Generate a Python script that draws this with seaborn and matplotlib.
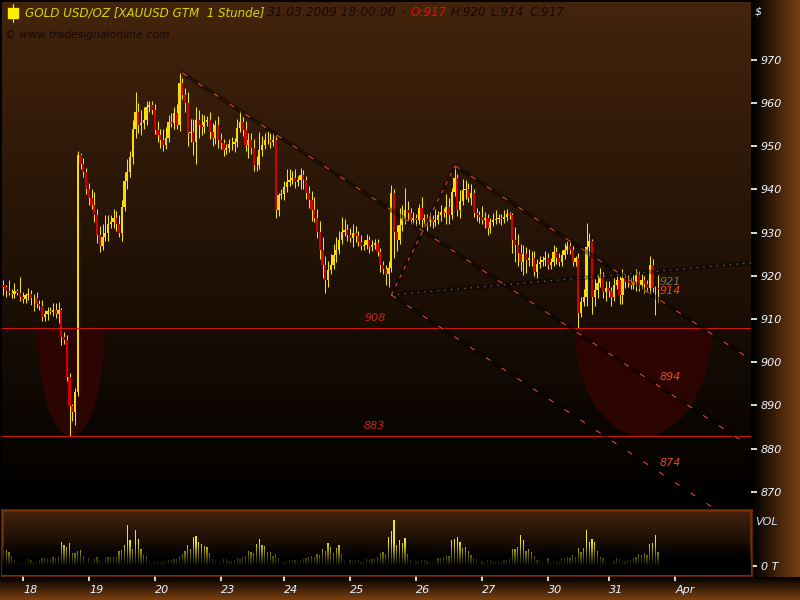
import numpy as np
import pandas as pd
import matplotlib
matplotlib.use("Agg")
import matplotlib.pyplot as plt
from matplotlib.colors import LinearSegmentedColormap
import seaborn as sns

# hourly closes, one row per trading day
closes = [
    917.5, 916.5, 916, 915.8, 916.4, 916, 915.2, 914.7, 915.5, 915.8, 914.8, 914.8, 913.5, 913, 910.5, 911.2, 911.8, 911.6, 912.2, 911.2, 912, 905.9, 905.2, 896.6,
    889.9, 888.5, 893.1, 948, 945.8, 944, 940, 938, 936.5, 934, 929.5, 927, 929, 930, 932, 932.5, 933.5, 932, 930, 936, 942, 944, 947.5, 954,
    958, 955, 955.5, 956, 959, 959.5, 958.4, 953.8, 952.6, 951.5, 950.3, 952, 955.7, 955.5, 957.7, 955, 964.7, 961.9, 960, 953, 953.4, 951, 956, 955,
    954.5, 955.7, 956, 953.3, 952, 955, 951.5, 950.8, 949.2, 949.6, 950.6, 950.6, 950.9, 954.3, 955.7, 953.8, 950.3, 951.5, 949.6, 945.7, 945.7, 949.2, 950.3, 951.5,
    951.5, 951, 951.5, 935.3, 938.7, 939, 940.5, 941.8, 942.2, 942.7, 941.8, 942.2, 943.4, 942.2, 939.2, 937.6, 935.3, 933.4, 930.2, 926, 922.5, 919, 921.4, 922.5,
    924.8, 926, 928.3, 930.2, 930.6, 929.5, 928.8, 930, 929.3, 927.9, 927, 927.2, 928.3, 926.8, 927.2, 927.6, 925.5, 922.5, 921.5, 920.4, 921.9, 939.2, 930.2, 928.3,
    931.8, 933.4, 935.3, 934.6, 933, 933.4, 933, 935.7, 933, 933.4, 932.5, 933.2, 932.5, 933, 934.1, 934.8, 934.6, 936, 934.1, 939.4, 942.7, 935.3, 937.4, 939.9,
    940.1, 938, 939.2, 934.6, 934.1, 933.7, 933, 933.4, 931, 932.5, 933, 933.2, 933.4, 933.2, 933.7, 934.4, 934.1, 928.3, 927.2, 925.3, 923.2, 925.1, 923.7, 924.2,
    924.2, 920.9, 922.8, 923.2, 923.7, 924.2, 922.5, 923.2, 925.6, 924.2, 923.2, 924.9, 926, 927, 926, 923.2, 924.2, 911.4, 914, 915, 926.7, 928, 915.1, 916.8,
    918.4, 919.8, 916.3, 917.2, 916.5, 915.1, 917.9, 919, 915.6, 919.5, 918.6, 918.4, 917.9, 918.6, 920.2, 917.9, 919, 918.1, 917.2, 922.5, 917.2, 917.2, 917,
]
# wick length above the body
upper_wick = [
    1, .5, 2.5, 1, 2, .5, 3.8, 1, .5, 1.5, 1, 1, 1.5, 1, 1.5, 1, 1, 1, 1.5, 1.5, 2, .5, 1, 1,
    1, .5, 1, 1, .5, 1.5, 1, 1.5, 2, 3, 1.5, 2, 3, 4, 2, 1.5, 2, 1.5, 2, 1.5, 2, 3, 1.5, 2,
    4.5, 2, 3, 3, 1.5, 1, 1, 1.5, 2, 1.5, 2.5, 2.5, 1.5, 2, 1.5, 2, 2.3, 1, 1.5, 2.5, 3, 3, 3, 2.5,
    2.5, 1.5, 1, 2, 2, 1, 2, 1.5, 1, 1, 1, 1.5, 1, 2, 2.5, 1, 2, 1.5, 1.5, 2, 2, 4, 2, 1.5,
    2, 1.5, 1.5, 1, .5, 1, 1.5, 3, 2.5, 1.5, 2, 1, 1.5, 1, 1, 1.5, 2, 3, 2, 2.5, 3, 2, 2, 2.5,
    2.5, 3, 2, 3.5, 2.5, 1.5, 1.5, 2, 1.5, 1, 1.5, 1, 1.5, 1, 1, 1, 1, 1, 1, 1, 1.5, 1.8, 1, 1.5,
    4, 3, 5, 2, 1, 1.5, 1, 1, 2.5, 1, 1, 1.5, 1, 2.5, 1, 1.5, 1, 3, 2, 1, 2.8, 1, 2.5, 2.5,
    2, 1.5, 2, 1, 1, 1, 2.5, 1.5, 1, 1, 1.5, 2, 1, 1, 1.5, 1, .5, .5, 3, 2.5, 2, 2, 1.5, 2,
    1.5, 1.5, 1, 1.5, 1, 1.5, 1, 1, 1.5, 1, 1, 1, 1.5, 1, 1, 1, .5, 1, 1, 2, 5.6, 2, .5, 2.5,
    2, 2, 1, 1.5, 1.5, 1, 1.5, 1, 1, 2, 1, 1.5, 1, 1.5, 1.5, 1, 1.5, 1, 1, 2.1, 1.5, .5, 3,
]
# wick length below the body
lower_wick = [
    2, 1.5, .5, 1, 1, .5, 1, 1, 1, 1, 1.5, 3, 1, 1, 1, 1, 1.5, .5, 1, 1, 2, 2, 1, 1,
    6.9, 2, 3, 1, 1, 1, 1, 1.5, 1, 1.5, 2, 1.5, 1, 1, 2, 1, 1.5, 1.5, 1, 2, 1, 2, 1, 1.5,
    2, 2, 2.5, 1.5, 1, 1, 1, 1, 1.5, 2, 1.5, 1, 1, 1, 1.5, 1, 1.5, 1, 2, 3, 2, 3, 5, 3,
    2, 1.5, 1, 1.5, 2, 1.5, 2, 1.5, 1.5, 1, 1, 1.5, 2, 1, 1, 1.5, 1.5, 3, 1.5, 1.5, 1.5, 1, 1.5, 1,
    1, 1.5, 1, 2, 1.5, 1, 1.5, 1, 1, 1, 1.5, 1, 2, 2, 1.5, 2, 2.5, 1, 1.5, 2, 3, 3, 1.5, 1,
    1, 1.5, 1, 1, 1, 1.5, 1, 2, 1.5, 1, 1, 1, 1, 1.5, 1, 1, 1, 1.5, 1, 2.5, 3, 1, 6, 2.5,
    1, 1.5, 1.5, 2, 1, 1, 1.5, 1, 2, 1, 2, 1, 1.5, 1, 1, 1.5, 1, 2.5, 2, 1, 1, 1.5, 2, 1,
    2, 1, 1.5, 1, 1.5, 1.5, 1, 2, 1.5, 1, 1, 1, 1, 1.5, 1, 1, 1, 3, 4, 3, 2, 3, 3, 1.5,
    2, 1, 1.5, 1, 1, 1.5, 1, 1, 1, 1.5, 1, 1, 1, 1, 1, 1, 1, 3.4, 1, 1, 2, 2, 4, 2,
    2, 1, 1.5, 2, 1.5, 2, 1, 1, 2, 2, 1.5, 1, 1, 1, 2, 1.5, 1, 2, 1, 1.5, 1, 6.2, 3,
]
volumes = [
    15, 16, 14, 10, 6, 4, 2, 3, 4, 7, 6, 4, 4, 6, 8, 8, 7, 7, 9, 8, 9, 24, 21, 19,
    23, 13, 13, 15, 16, 10, 2, 8, 4, 7, 9, 6, 4, 8, 9, 9, 9, 9, 15, 16, 21, 41, 26, 17,
    36, 27, 17, 11, 10, 5, 2, 5, 4, 4, 4, 5, 6, 6, 7, 7, 10, 12, 15, 21, 17, 29, 30, 24,
    22, 20, 19, 13, 7, 5, 1, 4, 7, 7, 5, 5, 6, 8, 7, 9, 10, 15, 14, 13, 22, 27, 21, 20,
    14, 14, 10, 12, 8, 2, 4, 5, 6, 6, 6, 5, 6, 7, 8, 9, 10, 9, 12, 11, 17, 15, 23, 19,
    13, 18, 21, 12, 5, 2, 6, 5, 6, 6, 4, 4, 7, 6, 7, 7, 9, 13, 14, 12, 29, 35, 46, 21,
    26, 23, 28, 12, 6, 2, 5, 5, 6, 6, 5, 4, 4, 5, 8, 8, 9, 10, 10, 26, 27, 29, 24, 18,
    19, 15, 11, 8, 7, 2, 5, 4, 6, 6, 4, 4, 5, 4, 6, 6, 7, 17, 17, 19, 31, 26, 15, 17,
    14, 10, 6, 5, 4, 1, 8, 4, 5, 5, 4, 8, 8, 9, 8, 11, 9, 18, 14, 18, 36, 24, 27, 24,
    15, 9, 8, 4, 2, 3, 5, 8, 7, 5, 5, 6, 6, 8, 9, 12, 11, 13, 11, 22, 23, 31, 14,
]
day_labels = ["18", "19", "20", "23", "24", "25", "26", "27", "30", "31", "Apr"]
day_ticks = [7.1, 31.1, 55.1, 79.1, 102, 126, 150, 174, 198, 220.2, 244.2]
price_ticks = [870, 880, 890, 900, 910, 920, 930, 940, 950, 960, 970]

support_levels = [908, 883]
channel_upper = ([65, 270.7], [967, 880.9])
channel_middle = ([164.2, 269.6], [945.5, 901.5])
channel_lower = ([141, 257.6], [915.6, 866.5])
rise_line = ([141, 164.2], [915.6, 945.5])
dotted_line = ([141, 271.8], [915.6, 923])

YELLOW = "#ffee00"
BODY_YELLOW = "#f7dc00"
RED = "#d40000"
ORANGE = "#e8481a"

sns.set_theme(style="dark", rc={"axes.grid": False})
plt.rcParams["font.family"] = "DejaVu Sans"
plt.rcParams["font.style"] = "italic"

W, H = 800, 600
fig = plt.figure(figsize=(8, 6), dpi=100, facecolor="black")


def px_axes(x0, y0, x1, y1, **kw):
    return fig.add_axes([x0 / W, 1 - y1 / H, (x1 - x0) / W, (y1 - y0) / H], **kw)


def gradient(ax, cmap, horizontal=False):
    g = np.linspace(0, 1, 256)
    g = g.reshape(1, -1) if horizontal else g.reshape(-1, 1)
    ax.imshow(g, cmap=cmap, aspect="auto", extent=(0, 1, 0, 1), transform=ax.transAxes,
              vmin=0, vmax=1, origin="upper", zorder=0)


panel_cmap = LinearSegmentedColormap.from_list("panel", ["#44240c", "#000000"])
vol_cmap = LinearSegmentedColormap.from_list("vol", [(0, "#44240c"), (0.8, "#000000"), (1, "#000000")])

# right and bottom bands
right_band = px_axes(752, 0, 800, 577)
gradient(right_band, LinearSegmentedColormap.from_list("r", ["#000000", "#7a4012"]), horizontal=True)
right_band.axis("off")
bottom_band = px_axes(0, 577, 800, 600)
gradient(bottom_band, LinearSegmentedColormap.from_list("b", ["#000000", "#7a4012"]))
bottom_band.axis("off")

# price panel
ax = px_axes(2, 2, 751, 507)
gradient(ax, panel_cmap)

idx = np.arange(len(closes))
closes = np.array(closes)
opens = np.r_[closes[0] + 0.5, closes[:-1]]
highs = np.maximum(opens, closes) + np.array(upper_wick)
lows = np.minimum(opens, closes) - np.array(lower_wick)

# bowls under the support levels
for centre, half in [(24.4, 12.2), (232.4, 24.9)]:
    xs = np.linspace(centre - half, centre + half, 200)
    bowl = support_levels[0] - (support_levels[0] - support_levels[1]) * np.sqrt(np.clip(1 - ((xs - centre) / half) ** 2, 0, 1))
    ax.fill_between(xs, bowl, support_levels[0], color="#2c0502", lw=0, zorder=1)

ax.vlines(idx, lows, highs, color=YELLOW, lw=0.7, zorder=3)
up = closes >= opens
ax.bar(idx[up], (closes - opens)[up], bottom=opens[up], width=0.88, color=BODY_YELLOW, lw=0, zorder=4)
ax.bar(idx[~up], (closes - opens)[~up], bottom=opens[~up], width=0.88, color=RED, lw=0, zorder=4)

for level in support_levels:
    ax.axhline(level, color="#cc1a0a", lw=0.8, zorder=5)

# channel lines, dark band with a thin dashed line on top
for (lx, ly), dash in [(channel_upper, (5, 12)), (channel_middle, (5, 12)), (channel_lower, (5, 12)), (rise_line, (3.5, 5))]:
    sns.lineplot(x=lx, y=ly, ax=ax, color="black", alpha=0.4, lw=3, errorbar=None, zorder=5)
    sns.lineplot(x=lx, y=ly, ax=ax, color=ORANGE, lw=0.8, linestyle=(0, dash), errorbar=None, zorder=6)
sns.lineplot(x=dotted_line[0], y=dotted_line[1], ax=ax, color="black", alpha=0.35, lw=3, errorbar=None, zorder=5)
sns.lineplot(x=dotted_line[0], y=dotted_line[1], ax=ax, color="#8a8078", lw=0.8, linestyle=(0, (1, 5)), errorbar=None, zorder=6)

for lx, ly, s, c in [(135, 910.3, "908", "#c8280e"), (135, 885.2, "883", "#c8280e"),
                     (242.4, 896.6, "894", ORANGE), (242.4, 876.7, "874", ORANGE),
                     (242.4, 918.6, "921", "#77706a"), (242.4, 916.6, "914", ORANGE)]:
    ax.text(lx, ly, s, color=c, fontsize=8, ha="center", va="center", zorder=7)

ax.set_xlim(-0.545, 271.8)
ax.set_ylim(866.5, 983.4)
ax.set_xlabel("")
ax.set_ylabel("")
ax.set_xticks([])
ax.yaxis.tick_right()
ax.set_yticks(price_ticks)
ax.set_yticklabels(price_ticks, color="#eef4ff", fontsize=8)
ax.tick_params(axis="y", colors="white", length=4, width=1.2, pad=3, labelcolor="#eef4ff", right=True)
for side, sp in ax.spines.items():
    sp.set_visible(False)

# volume panel
vol = px_axes(2, 510, 751, 575)
gradient(vol, vol_cmap)
vol_df = pd.DataFrame({"bar": idx, "volume": volumes})
sns.barplot(data=vol_df, x="bar", y="volume", native_scale=True, width=0.4, color="#f2e800",
            saturation=1, errorbar=None, linewidth=0, antialiased=False, ax=vol, zorder=2)
# bars fade into the black towards the baseline
fade = np.zeros((256, 1, 4))
fade[:, 0, 3] = np.clip((np.linspace(0, 1, 256) - 0.5) / 0.36, 0, 1)
vol.imshow(fade, aspect="auto", extent=(0, 1, 0, 1), transform=vol.transAxes, origin="upper", zorder=3)
vol.set_xlim(-0.545, 271.8)
vol.set_ylim(-9, 56)
vol.set_xlabel("")
vol.set_ylabel("")
vol.set_xticks(day_ticks)
vol.set_xticklabels(day_labels, color="#eef4ff", fontsize=8, ha="left")
vol.tick_params(axis="x", colors="white", length=4, width=1.2, pad=3, labelcolor="#eef4ff", bottom=True)
vol.yaxis.tick_right()
vol.set_yticks([0])
vol.set_yticklabels(["0 T"], color="#eef4ff", fontsize=8)
vol.tick_params(axis="y", colors="white", length=4, width=1.2, pad=3, labelcolor="#eef4ff", right=True)
for sp in vol.spines.values():
    sp.set_color("#7a2c05")
    sp.set_linewidth(1.8)


# header texts, placed in figure pixels
def head(x, y, s, c, size=8.6):
    fig.text(x / W, 1 - y / H, s, color=c, fontsize=size, va="center", ha="left", zorder=10)


fig.add_artist(plt.Rectangle((8 / W, 1 - 18 / H), 10 / W, 10 / H, color=YELLOW, transform=fig.transFigure, zorder=10))
fig.add_artist(plt.Line2D([13 / W, 13 / W], [1 - 22 / H, 1 - 4 / H], color=YELLOW, lw=0.8, transform=fig.transFigure, zorder=10))
head(25, 13, "GOLD USD/OZ [XAUUSD GTM  1 Stunde]", "#d8d400")
head(267, 13, "31.03.2009 18:00:00", "#170a03", 8.8)
head(401, 13, "-", "#170a03")
head(411, 13, "O:917", "#ee0a0a", 8.6)
head(451, 13, "H:920", "#170a03", 8.6)
head(491, 13, "L:914", "#170a03", 8.6)
head(530, 13, "C:917", "#170a03", 8.6)
head(5, 35, "\u00a9 www.tradesignalonline.com", "#170a03", 7.8)
head(755, 12, "$", "#eef4ff", 8)
head(755, 522, "VOL", "#cfe0ff", 8)

fig.savefig("out.png", dpi=100, facecolor="black")
